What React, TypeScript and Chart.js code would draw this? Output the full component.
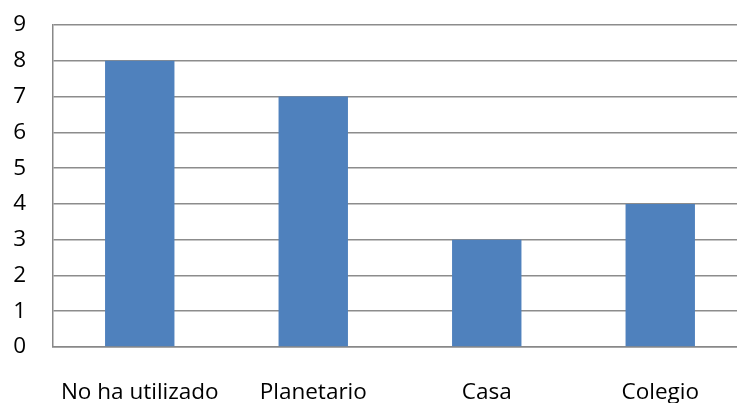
import React, { useEffect, useRef } from "react";
import { Chart, registerables } from "chart.js";

Chart.register(...registerables);

const categories = ["No ha utilizado", "Planetario", "Casa", "Colegio"];
const values = [8, 7, 3, 4];
const yTicks = [0, 1, 2, 3, 4, 5, 6, 7, 8, 9];

export default function App() {
  const ref = useRef<HTMLCanvasElement | null>(null);
  useEffect(() => {
    document.body.style.overflow = "hidden";
    const ctx = ref.current!;
    const font = { family: "'Open Sans', sans-serif", size: 22.5 };
    const chart = new Chart(ctx, {
      type: "bar",
      data: {
        labels: categories,
        datasets: [
          {
            data: values,
            backgroundColor: "#4F81BD",
            categoryPercentage: 1,
            barPercentage: 0.4,
          },
        ],
      },
      options: {
        animation: false,
        responsive: false,
        maintainAspectRatio: false,
        layout: { padding: { top: 25, right: 13, left: 0, bottom: 0 } },
        plugins: { legend: { display: false }, tooltip: { enabled: false } },
        scales: {
          x: {
            grid: { display: false, drawTicks: false },
            border: { color: "#888888", width: 1.5 },
            ticks: { color: "#000", font, padding: 32, maxRotation: 0, autoSkip: false },
            afterFit: (s: any) => {
              s.height = 56;
            },
          },
          y: {
            min: 0,
            max: 9,
            afterBuildTicks: (s: any) => {
              s.ticks = yTicks.map((v) => ({ value: v }));
            },
            grid: { color: "#8C8C8C", lineWidth: 1.5, drawTicks: false },
            border: { color: "#888888", width: 1.5 },
            ticks: { color: "#000", font, padding: 27 },
            afterFit: (s: any) => {
              s.width = 53;
              s.paddingTop = 0;
              s.paddingBottom = 0;
            },
          },
        },
      },
    });
    return () => chart.destroy();
  }, []);
  return (
    <div style={{ position: "fixed", left: 0, top: 0, width: 760, height: 403 }}>
      <canvas ref={ref} width={760} height={403} style={{ display: "block" }} />
    </div>
  );
}
